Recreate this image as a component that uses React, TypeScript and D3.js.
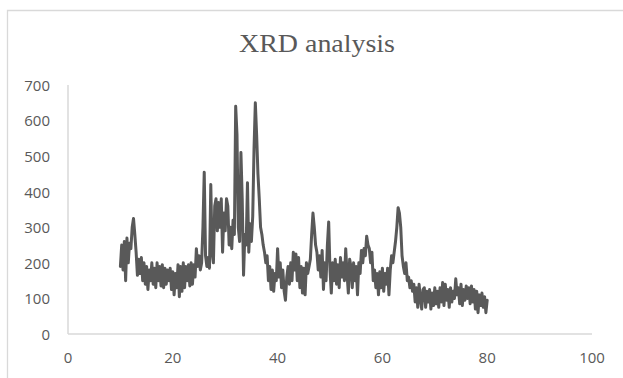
import React from 'react';
import * as d3 from 'd3';

const chartTitle = 'XRD analysis';
const xTicks = [0, 20, 40, 60, 80, 100];
const yTicks = [0, 100, 200, 300, 400, 500, 600, 700];

// 2-theta scan starts at 10 deg, one reading every 0.25 deg
const startAngle = 10;
const angleStep = 0.25;
const intensity = [
  190, 250, 180, 260,
  150, 270, 200, 255,
  240, 300, 325, 280,
  230, 165, 210, 170,
  215, 150, 200, 140,
  190, 125, 180, 150,
  200, 140, 185, 130,
  200, 150, 190, 135,
  195, 130, 185, 140,
  180, 150, 185, 125,
  175, 110, 170, 130,
  195, 105, 190, 120,
  200, 130, 190, 150,
  195, 135, 200, 140,
  195, 160, 240, 190,
  220, 180, 200, 300,
  455, 220, 190, 215,
  185, 420, 230, 200,
  360, 380, 290, 370,
  300, 380, 230, 340,
  290, 380, 360, 250,
  300, 240, 320, 280,
  640, 560, 300, 260,
  510, 380, 165, 280,
  250, 425, 230, 310,
  260, 330, 520, 650,
  560, 450, 380, 300,
  280, 250, 230, 200,
  220, 150, 190, 125,
  180, 120, 170, 150,
  240, 160, 200, 130,
  180, 120, 95, 160,
  190, 140, 200, 150,
  230, 180, 225, 150,
  215, 130, 190, 115,
  185, 110, 200, 170,
  190, 210, 280, 340,
  300, 250, 230, 180,
  220, 160, 235, 125,
  200, 150, 250, 315,
  180, 115, 200, 150,
  210, 140, 195, 130,
  215, 160, 200, 150,
  240, 170, 115, 210,
  190, 130, 200, 150,
  190, 110, 200, 170,
  235, 200, 240, 220,
  275, 250, 240, 200,
  230, 150, 180, 130,
  170, 110, 175, 130,
  185, 120, 170, 140,
  185, 110, 180, 220,
  200, 230, 260, 300,
  355, 340, 300, 220,
  190, 170, 200, 150,
  160, 130, 150, 120,
  140, 90, 130, 75,
  140, 100, 70, 125,
  130, 75, 120, 90,
  125, 70, 115, 80,
  130, 85, 120, 75,
  130, 90, 145, 80,
  140, 95, 125, 75,
  130, 90, 120, 100,
  155, 110, 130, 85,
  140, 80, 125, 95,
  135, 100, 130, 85,
  135, 90, 125, 70,
  120, 60, 110, 80,
  115, 75, 105, 60,
  95,
];

const width = 623;
const height = 378;
const textColor = '#595959';
const axisColor = '#d9d9d9';
const labelFont = '"Open Sans", "Liberation Sans", sans-serif';

export default function App() {
  const x = d3.scaleLinear().domain([0, 100]).range([68, 592]);
  const y = d3.scaleLinear().domain([0, 700]).range([334, 85]);

  const points = intensity.map((v, i) => [startAngle + i * angleStep, v] as [number, number]);
  const line = d3.line<[number, number]>()
    .x(d => x(d[0]))
    .y(d => y(d[1]));

  return (
    <svg width={width} height={height} viewBox={`0 0 ${width} ${height}`}
      style={{ position: 'absolute', left: 0, top: 0, background: '#fff' }}>
      {/* chart area border, runs off the right and bottom edges */}
      <path d={`M7.5,${height + 2}V10.5H${width + 2}`} fill="none" stroke={axisColor} strokeWidth={1.3} />

      <text x={317} y={52} textAnchor="middle" textLength={156} lengthAdjust="spacingAndGlyphs"
        fontFamily='"Liberation Serif", "Times New Roman", serif' fontSize={25} fill={textColor}>
        {chartTitle}
      </text>

      <line x1={x(0)} x2={x(0)} y1={y(700)} y2={y(0)} stroke={axisColor} strokeWidth={1.5} />
      <line x1={x(0)} x2={x(100)} y1={y(0)} y2={y(0)} stroke={axisColor} strokeWidth={1.5} />

      {yTicks.map(t => (
        <text key={'y' + t} x={50} y={y(t) + 0.5} dy="0.36em" textAnchor="end"
          fontFamily={labelFont} fontSize={15} fill={textColor}>{t}</text>
      ))}
      {xTicks.map(t => (
        <text key={'x' + t} x={x(t)} y={357.5} dy="0.36em" textAnchor="middle"
          fontFamily={labelFont} fontSize={15} fill={textColor}>{t}</text>
      ))}

      <path d={line(points) ?? ''} fill="none" stroke={textColor} strokeWidth={3}
        strokeLinejoin="round" strokeLinecap="round" />
    </svg>
  );
}
